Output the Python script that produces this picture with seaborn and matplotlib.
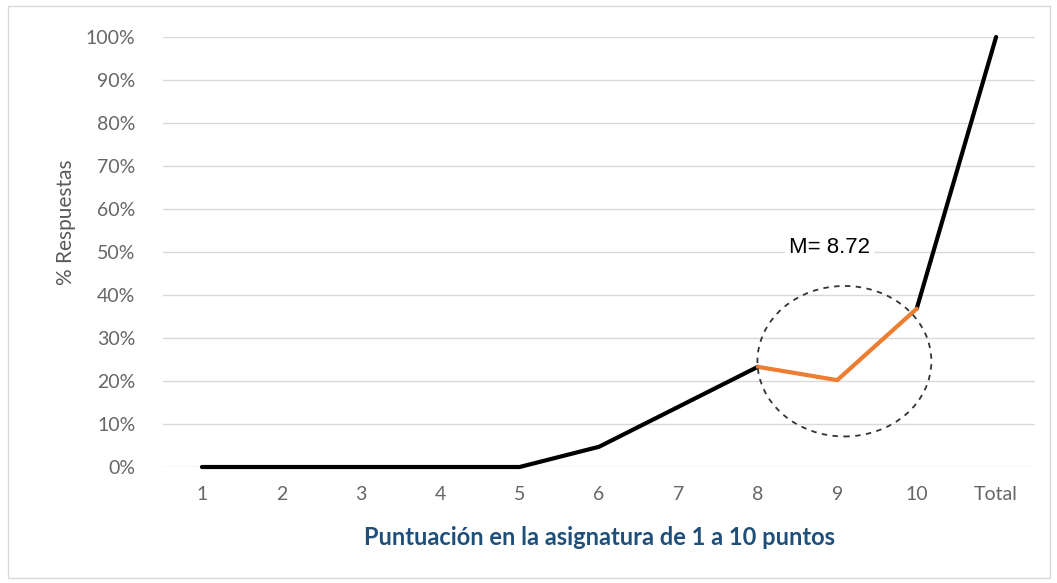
import numpy as np
import pandas as pd
import matplotlib.pyplot as plt
import seaborn as sns
from matplotlib.patches import Ellipse, Rectangle

# valores
categorias = ['1', '2', '3', '4', '5', '6', '7', '8', '9', '10', 'Total']
porcentajes = [0, 0, 0, 0, 0, 4.7, 14.0, 23.3, 20.2, 36.8, 100]
tramo_resaltado = ['8', '9', '10']
media_texto = 'M= 8.72'

sns.set_theme(style='white')
plt.rcParams['font.family'] = ['Lato', 'DejaVu Sans']

df = pd.DataFrame({'cat': categorias, 'pct': porcentajes})
df['pos'] = np.arange(len(df))

fig = plt.figure(figsize=(10.57, 5.83), dpi=100)
ax = fig.add_axes([163 / 1057, 1 - 467 / 583, (1035 - 163) / 1057, 430 / 583])

# marco exterior gris
fig.patches.append(Rectangle((8 / 1057, 5 / 583), 1042 / 1057, 572 / 583,
                             transform=fig.transFigure, fill=False,
                             edgecolor='#d9d9d9', linewidth=1))

idx8 = categorias.index('8')
idx10 = categorias.index('10')
negro1 = df.iloc[:idx8 + 1]
naranja = df[df['cat'].isin(tramo_resaltado)]
negro2 = df.iloc[idx10:]

for parte, color in [(negro1, 'black'), (negro2, 'black'), (naranja, '#ed7d31')]:
    sns.lineplot(data=parte, x='pos', y='pct', color=color, linewidth=3,
                 ax=ax, clip_on=False, zorder=3)

ax.set_xlim(-0.49, len(categorias) - 0.51)
ax.set_ylim(0, 100)
ax.set_yticks(np.arange(0, 101, 10))
ax.set_yticklabels([f'{v}%' for v in range(0, 101, 10)])
ax.set_xticks(df['pos'])
ax.set_xticklabels(categorias)
ax.grid(axis='y', color='#d9d9d9', linewidth=1)
ax.set_axisbelow(True)
for s in ax.spines.values():
    s.set_visible(False)
ax.tick_params(axis='both', colors='#666666', labelsize=14, length=0)
ax.tick_params(axis='y', pad=20)
ax.tick_params(axis='x', pad=14)

ax.set_ylabel('% Respuestas', color='#595959', fontsize=15)
ax.yaxis.set_label_coords(-0.1, 0.57)
ax.set_xlabel('Puntuación en la asignatura de 1 a 10 puntos', color='#1f4e79',
              fontsize=17, fontweight='bold', labelpad=16)

# circulo discontinuo alrededor de 8-10
ax.add_patch(Ellipse((8.09, 24.6), 2.19, 35, fill=False, edgecolor='#333333',
                     linestyle=(0, (3, 3)), linewidth=1.3, zorder=4))
ax.text(7.9, 51, media_texto, ha='center', va='center', fontsize=16,
        family=['Liberation Sans', 'DejaVu Sans'], color='black',
        bbox=dict(facecolor='white', edgecolor='none', pad=3), zorder=5)

plt.savefig('out.png', dpi=100)
